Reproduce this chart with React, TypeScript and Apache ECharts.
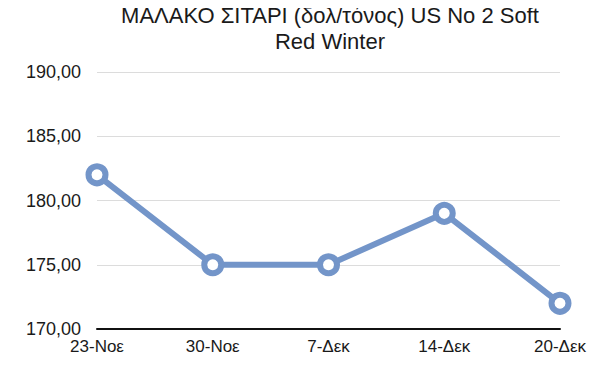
import React, { useEffect, useRef } from "react";
import * as echarts from "echarts";

const titleText = "ΜΑΛΑΚΟ ΣΙΤΑΡΙ (δολ/τόνος) US No 2 Soft\nRed Winter";
const categories = ["23-Νοε", "30-Νοε", "7-Δεκ", "14-Δεκ", "20-Δεκ"];
const values = [182, 175, 175, 179, 172];
const yMin = 170;
const yMax = 190;
const yStep = 5;

export default function App() {
  const ref = useRef<HTMLDivElement>(null);
  useEffect(() => {
    if (!ref.current) return;
    const chart = echarts.init(ref.current, undefined, { renderer: "svg" });
    const font = "'Liberation Sans', Arial, Helvetica, sans-serif";
    chart.setOption({
      animation: false,
      backgroundColor: "#ffffff",
      title: {
        text: titleText,
        left: 330,
        textAlign: "center",
        top: 2,
        padding: 0,
        textStyle: {
          fontFamily: font,
          fontSize: 22,
          fontWeight: "normal",
          color: "#1a1a1a",
          lineHeight: 26,
        },
      },
      grid: { left: 97, right: 47, top: 72, bottom: 43, containLabel: false },
      xAxis: {
        type: "category",
        data: categories,
        boundaryGap: false,
        axisLine: { lineStyle: { color: "#111", width: 2 } },
        axisTick: { show: false },
        axisLabel: {
          fontFamily: font,
          fontSize: 17,
          color: "#1a1a1a",
          margin: 9,
        },
        splitLine: { show: false },
      },
      yAxis: {
        type: "value",
        min: yMin,
        max: yMax,
        interval: yStep,
        axisLine: { show: false },
        axisTick: { show: false },
        axisLabel: {
          fontFamily: font,
          fontSize: 18,
          color: "#1a1a1a",
          margin: 16,
          formatter: (v: number) => v.toFixed(2).replace(".", ","),
        },
        splitLine: { lineStyle: { color: "#dcdcdc", width: 1 } },
      },
      series: [
        {
          type: "line",
          data: values,
          symbol: "circle",
          symbolSize: 17,
          lineStyle: { color: "#7395c9", width: 6 },
          itemStyle: { color: "#ffffff", borderColor: "#7395c9", borderWidth: 6 },
          z: 3,
        },
      ],
    });
    return () => chart.dispose();
  }, []);
  return <div ref={ref} style={{ width: 607, height: 372, margin: -8 }} />;
}
